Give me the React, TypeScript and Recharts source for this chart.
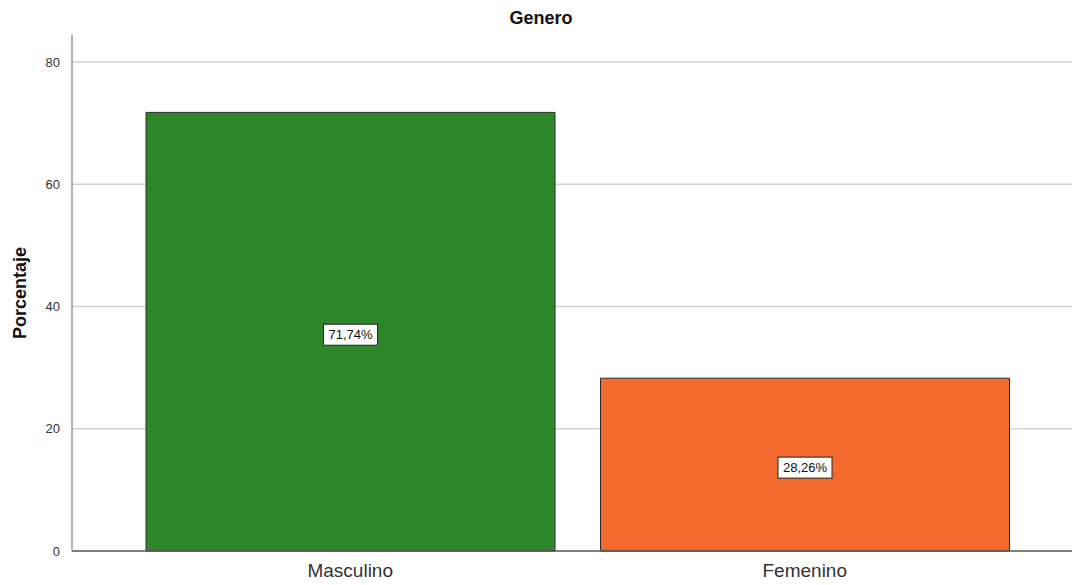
import { BarChart, Bar, XAxis, YAxis, CartesianGrid, Cell, LabelList } from 'recharts'

const categories = ['Masculino', 'Femenino']
const percentages = [71.74, 28.26]
const barColors = ['#2E862A', '#F26A2E']
const yTicks = [0, 20, 40, 60, 80]

const data = categories.map((genero, i) => ({ genero, porcentaje: percentages[i] }))

// etiqueta en caja blanca, centrada en la barra
function BoxLabel(props: any) {
  const { x, y, width, height, value } = props
  const text = value.toFixed(2).replace('.', ',') + '%'
  const cx = x + width / 2
  const cy = y + height / 2 + 3
  const w = 54
  const h = 21
  return (
    <g>
      <rect x={cx - w / 2} y={cy - h / 2} width={w} height={h} fill="#fff" stroke="#222" strokeWidth={1} />
      <text x={cx} y={cy + 4.5} textAnchor="middle" fontSize={13} fill="#111" fontFamily="Liberation Sans, Arial, sans-serif">
        {text}
      </text>
    </g>
  )
}

export default function App() {
  return (
    <div style={{ width: 1072, height: 585, background: '#fff', fontFamily: 'Liberation Sans, Arial, sans-serif' }}>
      <style>{'body { margin: 0; }'}</style>
      <BarChart width={1072} height={585} data={data} margin={{ top: 35, right: 0, bottom: 0, left: 0 }}>
        <text x={541} y={24} textAnchor="middle" fontSize={18} fontWeight="bold" fill="#111">
          Genero
        </text>
        <CartesianGrid vertical={false} horizontalValues={[20, 40, 60, 80]} stroke="#d2d2d2" strokeWidth={1.5} />
        <XAxis
          dataKey="genero"
          height={34}
          padding={{ left: 51, right: 40 }}
          tickLine={false}
          axisLine={{ stroke: '#555', strokeWidth: 1.5 }}
          tick={{ fill: '#333', fontSize: 19 }}
          tickMargin={7}
          interval={0}
        />
        <YAxis
          width={72}
          domain={[0, 84.4]}
          ticks={yTicks}
          tickLine={false}
          axisLine={{ stroke: '#999', strokeWidth: 1.5 }}
          tick={{ fill: '#333', fontSize: 13 }}
          tickMargin={6}
          label={{ value: 'Porcentaje', angle: -90, position: 'insideLeft', offset: 20, style: { fontSize: 18, fontWeight: 'bold', fill: '#111', textAnchor: 'middle' } }}
        />
        <Bar dataKey="porcentaje" barSize={409} stroke="#2a2a2a" strokeWidth={1} isAnimationActive={false}>
          {data.map((d, i) => (
            <Cell key={d.genero} fill={barColors[i]} />
          ))}
          <LabelList dataKey="porcentaje" content={BoxLabel} />
        </Bar>
      </BarChart>
    </div>
  )
}
